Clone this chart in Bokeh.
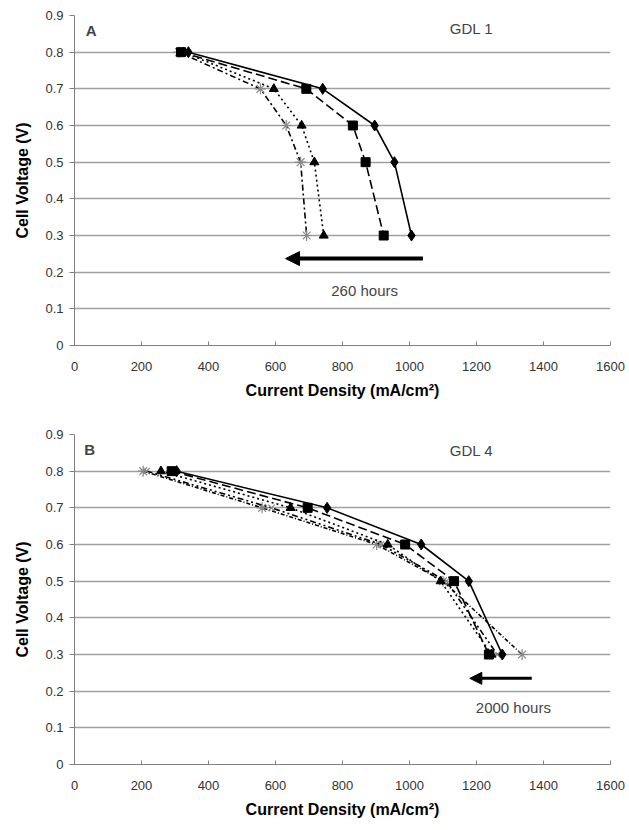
from bokeh.plotting import figure
from bokeh.layouts import column
from bokeh.models import FixedTicker, Arrow, NormalHead, Label
from bokeh.embed import file_html
from bokeh.resources import INLINE

# ---------------- data ----------------
voltage = [0.8, 0.7, 0.6, 0.5, 0.3]

# Panel A (GDL 1, 260 hours)
a_diamond = [340, 741, 896, 955, 1006]
a_square = [318, 692, 831, 869, 923]
a_triangle = [325, 595, 678, 716, 744]
a_star = [312, 555, 632, 675, 693]

# Panel B (GDL 4, 2000 hours)
b_diamond = [305, 754, 1035, 1177, 1277]
b_square = [290, 696, 987, 1133, 1237]
b_triangle = [258, 645, 935, 1093, 1245]
b_x = [215, 588, 915, 1110, 1262]
b_star = [205, 560, 902, 1100, 1336]

x_ticks = [0, 200, 400, 600, 800, 1000, 1200, 1400, 1600]
y_ticks = [0, 0.1, 0.2, 0.3, 0.4, 0.5, 0.6, 0.7, 0.8, 0.9]
y_tick_labels = ["0", "0.1", "0.2", "0.3", "0.4", "0.5", "0.6", "0.7", "0.8", "0.9"]

FONT = "Liberation Sans"


def make_panel(height, top, bottom):
    p = figure(width=629, height=height, x_range=(0, 1600), y_range=(0, 0.9),
               output_backend="svg", toolbar_location=None,
               min_border_left=74, min_border_right=19, min_border_top=top,
               min_border_bottom=bottom)
    p.outline_line_color = None
    p.xgrid.grid_line_color = None
    p.ygrid.grid_line_color = "#a0a0a0"
    p.ygrid.grid_line_width = 1.3
    p.xaxis.ticker = FixedTicker(ticks=x_ticks)
    p.yaxis.ticker = FixedTicker(ticks=y_ticks)
    p.yaxis.major_label_overrides = {t: s for t, s in zip(y_ticks, y_tick_labels)}
    p.xaxis.major_label_overrides = {t: str(t) for t in x_ticks}
    for ax in (p.xaxis, p.yaxis):
        ax.axis_line_color = "#808080"
        ax.major_tick_line_color = "#808080"
        ax.minor_tick_line_color = None
        ax.major_label_text_font = FONT
        ax.major_label_text_font_size = "13px"
        ax.major_label_text_color = "#333333"
        ax.axis_label_text_font = FONT
        ax.axis_label_text_font_style = "bold"
        ax.axis_label_text_font_size = "16px"
        ax.axis_label_text_color = "#000000"
    p.xaxis.major_tick_in = 4
    p.xaxis.major_tick_out = 0
    p.yaxis.major_tick_in = 0
    p.yaxis.major_tick_out = 5
    p.xaxis.major_label_standoff = 16
    p.yaxis.major_label_standoff = 6
    p.xaxis.axis_label_standoff = 8
    p.yaxis.axis_label_standoff = 11
    p.xaxis.axis_label = "Current Density (mA/cm²)"
    p.yaxis.axis_label = "Cell Voltage (V)"
    return p


def series(p, xs, marker, dash, color="black", size=9, mcolor="black"):
    p.line(xs, voltage, line_color=color, line_width=1.6, line_dash=dash)
    if marker in ("asterisk", "x"):
        p.scatter(xs, voltage, marker=marker, size=size, line_color=mcolor,
                  line_width=1.2, fill_color=None)
    else:
        p.scatter(xs, voltage, marker=marker, size=size, line_color=mcolor,
                  fill_color=mcolor)


# ---------------- panel A ----------------
pa = make_panel(427, 15, 82)
series(pa, a_star, "asterisk", "6 3 2 3", size=11, mcolor="#888888")
series(pa, a_triangle, "triangle", "2 3", size=9)
series(pa, a_square, "square", "9 4", size=9)
series(pa, a_diamond, "diamond", "solid", size=11)
pa.add_layout(Arrow(end=NormalHead(size=14, fill_color="black", line_color="black"),
                    x_start=1040, y_start=0.237, x_end=630, y_end=0.237,
                    line_width=4, line_color="black"))
pa.add_layout(Label(x=866, y=0.15, text="260 hours", text_align="center",
                    text_baseline="middle", text_font=FONT, text_font_size="15px"))
pa.add_layout(Label(x=1185, y=0.865, text="GDL 1", text_align="center",
                    text_baseline="middle", text_font=FONT, text_font_size="15px"))
pa.add_layout(Label(x=50, y=0.86, text="A", text_align="center",
                    text_baseline="middle", text_font=FONT, text_font_size="15px",
                    text_font_style="bold"))

# ---------------- panel B ----------------
pb = make_panel(403, 7, 66)
series(pb, b_star, "asterisk", "4 2 1 2", size=11, mcolor="#888888")
series(pb, b_x, "x", "6 3 2 3 2 3", size=9, mcolor="#888888")
series(pb, b_triangle, "triangle", "2 3", size=9)
series(pb, b_square, "square", "9 4", size=9)
series(pb, b_diamond, "diamond", "solid", size=11)
pb.add_layout(Arrow(end=NormalHead(size=12, fill_color="black", line_color="black"),
                    x_start=1365, y_start=0.235, x_end=1180, y_end=0.235,
                    line_width=3, line_color="black"))
pb.add_layout(Label(x=1310, y=0.155, text="2000 hours", text_align="center",
                    text_baseline="middle", text_font=FONT, text_font_size="15px"))
pb.add_layout(Label(x=1185, y=0.857, text="GDL 4", text_align="center",
                    text_baseline="middle", text_font=FONT, text_font_size="15px"))
pb.add_layout(Label(x=45, y=0.858, text="B", text_align="center",
                    text_baseline="middle", text_font=FONT, text_font_size="15px",
                    text_font_style="bold"))

layout = column(pa, pb, spacing=0)
open("out.html", "w").write(file_html(layout, INLINE))
